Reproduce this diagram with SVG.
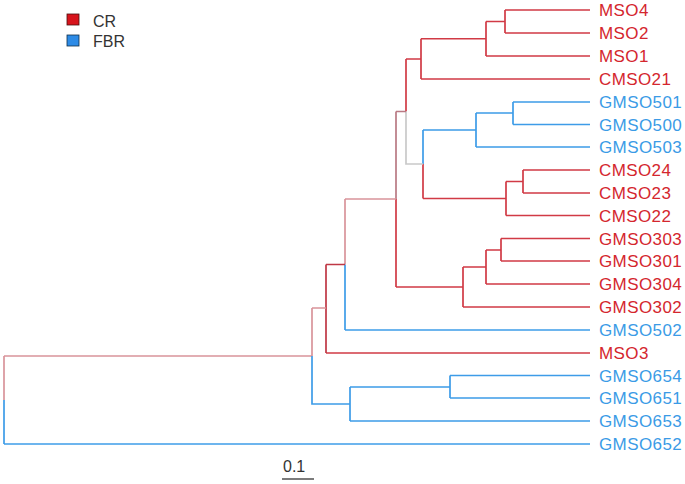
<svg xmlns="http://www.w3.org/2000/svg" width="685" height="484" viewBox="0 0 685 484">
<style>
text{font-family:"Liberation Sans",Arial,sans-serif;}
.lab{font-size:17px;letter-spacing:0.4px;}
.r{fill:#d4262e;}
.b{fill:#3b9be6;}
.c path{fill:none;stroke-width:1.7;}
.sr{stroke:#d13a45;}
.sb{stroke:#3d9ce8;}
.sp{stroke:#d9949b;}
.sm{stroke:#b97a84;}
.sd{stroke:#bf3845;}
.sg{stroke:#c9c9c9;}
</style>
<rect width="685" height="484" fill="#ffffff"/>
<g id="legend">
<rect x="67" y="14" width="12" height="11" fill="#d7141c" stroke="#4a1010" stroke-width="0.8"/>
<rect x="67" y="35" width="12" height="11" fill="#2d8be6" stroke="#10304a" stroke-width="0.8"/>
<text x="93" y="27" font-size="16" fill="#333">CR</text>
<text x="93" y="47" font-size="16" fill="#333">FBR</text>
</g>
<g id="connectors" class="c">
<path class="sr" d="M505 10H590M505 33H590"/>
<path class="sr" d="M486 56H590M421 79H590"/>
<path class="sb" d="M513 102H590M513 124.5H590M476 147H590"/>
<path class="sr" d="M523 170H590M523 193H590M506 215.5H590"/>
<path class="sr" d="M501 238.5H590M501 261H590M486 284H590M463 307H590"/>
<path class="sb" d="M345 330H590"/>
<path class="sr" d="M326 353H590"/>
<path class="sb" d="M450 375.5H590M450 398H590M350 421H590"/>
<path class="sb" d="M4 444H590"/>
<path class="sr" d="M505 10V33M486 21.5H505M486 21.5V56M421 38.75H486M421 38.75V79M406 59H421"/>
<path class="sb" d="M513 102V124.5M476 113H513M476 113V147M423 130H476M423 130V164"/>
<path class="sr" d="M523 170V193M506 181.5H523M506 181.5V215.5M423 198.5H506M423 164V198.5"/>
<path class="sr" d="M406 59V111.5"/>
<path class="sg" d="M406 111.5V164H423"/>
<path class="sm" d="M396 111.5H406M396 111.5V199"/>
<path class="sr" d="M501 238.5V261M486 250H501M486 250V284M463 267H486M463 267V307M396 287H463M396 199V287"/>
<path class="sp" d="M345 199H396M345 199V264.5"/>
<path class="sb" d="M345 264.5V330"/>
<path class="sd" d="M326 264.5H345M326 264.5V353"/>
<path class="sp" d="M312 308H326M312 308V356M4 356H312M4 356V400"/>
<path class="sb" d="M312 356V404H350M350 387V421M350 387H450M450 375.5V398M4 400V444"/>
</g>
<g id="MSO4"><text class="lab r" x="599" y="16">MSO4</text></g>
<g id="MSO2"><text class="lab r" x="599" y="39">MSO2</text></g>
<g id="MSO1"><text class="lab r" x="599" y="62">MSO1</text></g>
<g id="CMSO21"><text class="lab r" x="599" y="85">CMSO21</text></g>
<g id="GMSO501"><text class="lab b" x="599" y="108">GMSO501</text></g>
<g id="GMSO500"><text class="lab b" x="599" y="130.5">GMSO500</text></g>
<g id="GMSO503"><text class="lab b" x="599" y="153">GMSO503</text></g>
<g id="CMSO24"><text class="lab r" x="599" y="176">CMSO24</text></g>
<g id="CMSO23"><text class="lab r" x="599" y="199">CMSO23</text></g>
<g id="CMSO22"><text class="lab r" x="599" y="221.5">CMSO22</text></g>
<g id="GMSO303"><text class="lab r" x="599" y="244.5">GMSO303</text></g>
<g id="GMSO301"><text class="lab r" x="599" y="267">GMSO301</text></g>
<g id="GMSO304"><text class="lab r" x="599" y="290">GMSO304</text></g>
<g id="GMSO302"><text class="lab r" x="599" y="313">GMSO302</text></g>
<g id="GMSO502"><text class="lab b" x="599" y="336">GMSO502</text></g>
<g id="MSO3"><text class="lab r" x="599" y="359">MSO3</text></g>
<g id="GMSO654"><text class="lab b" x="599" y="381.5">GMSO654</text></g>
<g id="GMSO651"><text class="lab b" x="599" y="404">GMSO651</text></g>
<g id="GMSO653"><text class="lab b" x="599" y="427">GMSO653</text></g>
<g id="GMSO652"><text class="lab b" x="599" y="450">GMSO652</text></g>
<g id="scale">
<text x="283" y="472" font-size="16" fill="#333">0.1</text>
<path d="M282 479H314" stroke="#333" stroke-width="1.3"/>
</g>
</svg>
